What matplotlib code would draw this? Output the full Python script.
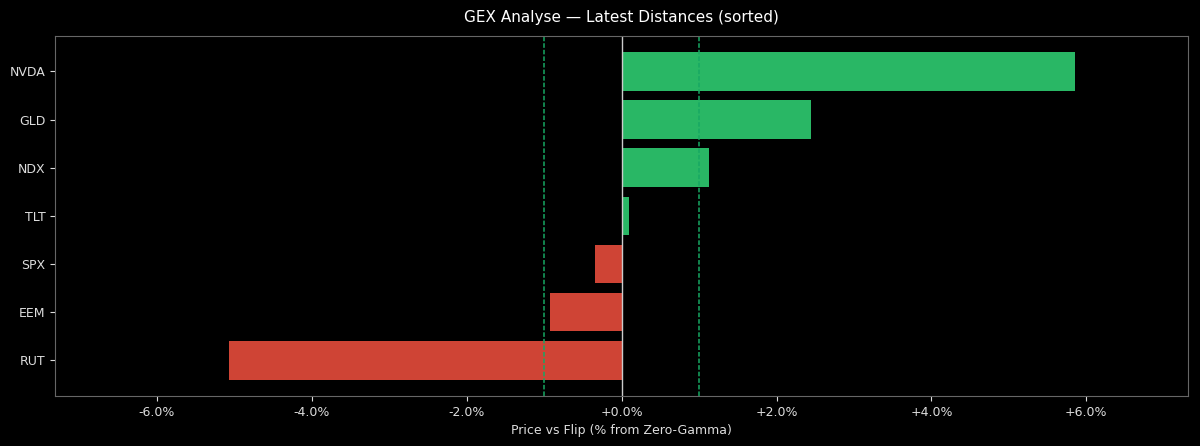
import numpy as np
import matplotlib
matplotlib.use("Agg")
import matplotlib.pyplot as plt
from matplotlib.ticker import FuncFormatter

# latest distance of price vs zero-gamma flip, in %
tickers = ["RUT", "EEM", "SPX", "TLT", "NDX", "GLD", "NVDA"]
dist = [-5.07, -0.92, -0.34, 0.09, 1.13, 2.45, 5.85]
band = 1.0   # +/- threshold lines

green = "#2ecc71"
red = "#e74c3c"
cols = [green if d >= 0 else red for d in dist]

plt.rcParams["font.family"] = "DejaVu Sans"
fig, ax = plt.subplots(figsize=(12, 4.46), dpi=100)
fig.patch.set_facecolor("black")
ax.set_facecolor("black")

y = np.arange(len(tickers))
ax.barh(y, dist, color=cols, alpha=0.9, height=0.8)
ax.axvline(0, color="#cccccc", lw=1)
for b in (band, -band):
    ax.axvline(b, color="#17a863", lw=1.1, ls=(0, (3.0, 1.3)))

lim = max(abs(d) for d in dist) * 1.25
ax.set_xlim(-lim, lim)
ax.set_yticks(y)
ax.set_yticklabels(tickers)
ax.set_xticks(np.arange(-6, 7, 2))
ax.xaxis.set_major_formatter(FuncFormatter(lambda v, p: f"{v:+.1f}%"))

ax.set_title("GEX Analyse — Latest Distances (sorted)", color="white", fontsize=11, pad=10)
ax.set_xlabel("Price vs Flip (% from Zero-Gamma)", color="#dddddd", fontsize=9)
ax.tick_params(colors="#dddddd", labelsize=9)
for s in ax.spines.values():
    s.set_color("#666666")

plt.subplots_adjust(left=0.046, right=0.99, top=0.92, bottom=0.112)
plt.savefig("out.png", facecolor=fig.get_facecolor())
